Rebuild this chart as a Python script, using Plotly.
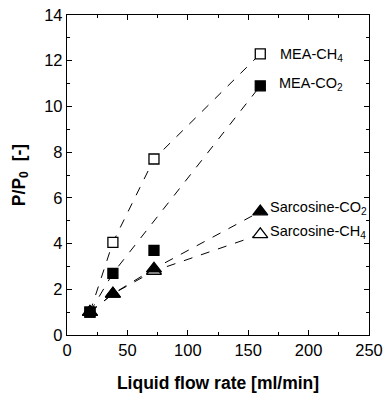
import plotly.graph_objects as go

flow = [19, 38, 72, 160]
mea_ch4 = [1.0, 4.05, 7.7, 12.3]
mea_co2 = [1.0, 2.7, 3.7, 10.9]
sar_co2 = [1.0, 1.8, 2.9, 5.4]
sar_ch4 = [1.0, 1.8, 2.8, 4.4]

# indices of points joined by the dashed guide lines
mea_co2_line_idx = [0, 1, 3]
all_idx = [0, 1, 2, 3]

series = [
    (sar_ch4, "triangle-up", "white", 13, all_idx),
    (mea_ch4, "square", "white", 10, all_idx),
    (sar_co2, "triangle-up", "black", 13, all_idx),
    (mea_co2, "square", "black", 10, mea_co2_line_idx),
]

fig = go.Figure()
line_style = dict(color="black", width=1, dash="dash")

for y, sym, fill, size, idx in series:
    fig.add_trace(go.Scatter(x=[flow[i] for i in idx], y=[y[i] for i in idx],
                             mode="lines", line=line_style, showlegend=False, hoverinfo="skip"))
for y, sym, fill, size, idx in series:
    fig.add_trace(go.Scatter(x=flow, y=y, mode="markers", showlegend=False,
                             marker=dict(symbol=sym, size=size, color=fill,
                                         line=dict(color="black", width=1.3))))

font_fam = "Liberation Sans, Arial"
labels = [
    ("MEA-CH<sub>4</sub>", 175, 12.25),
    ("MEA-CO<sub>2</sub>", 174, 11.0),
    ("Sarcosine-CO<sub>2</sub>", 166, 5.55),
    ("Sarcosine-CH<sub>4</sub>", 166, 4.5),
]
for txt, xx, yy in labels:
    fig.add_annotation(x=xx, y=yy, text=txt, showarrow=False, xanchor="left", yanchor="middle",
                       font=dict(family=font_fam, size=14.5, color="black"))

axis_common = dict(showline=True, linecolor="black", linewidth=1.3, mirror="allticks",
                   ticks="inside", ticklen=5, tickwidth=1.1, tickcolor="black",
                   showgrid=False, zeroline=False, automargin=False,
                   tickfont=dict(family=font_fam, size=16.5, color="black"))

fig.update_xaxes(range=[0, 250], tick0=0, dtick=50,
                 minor=dict(ticks="inside", ticklen=3, dtick=25, tickcolor="black", tickwidth=1.1),
                 title=dict(text="<b>Liquid flow rate [ml/min]</b>", standoff=18,
                            font=dict(family=font_fam, size=17.5, color="black")),
                 **axis_common)
fig.update_yaxes(range=[0, 14], tick0=0, dtick=2,
                 minor=dict(ticks="inside", ticklen=3, dtick=1, tickcolor="black", tickwidth=1.1),
                 title=dict(text="<b>P/P<sub>0</sub>  [-]</b>", standoff=14,
                            font=dict(family=font_fam, size=17.5, color="black")),
                 **axis_common)

fig.update_layout(width=386, height=396, margin=dict(l=67, r=17, t=15, b=61),
                  plot_bgcolor="white", paper_bgcolor="white")

fig.write_html("out.html")
